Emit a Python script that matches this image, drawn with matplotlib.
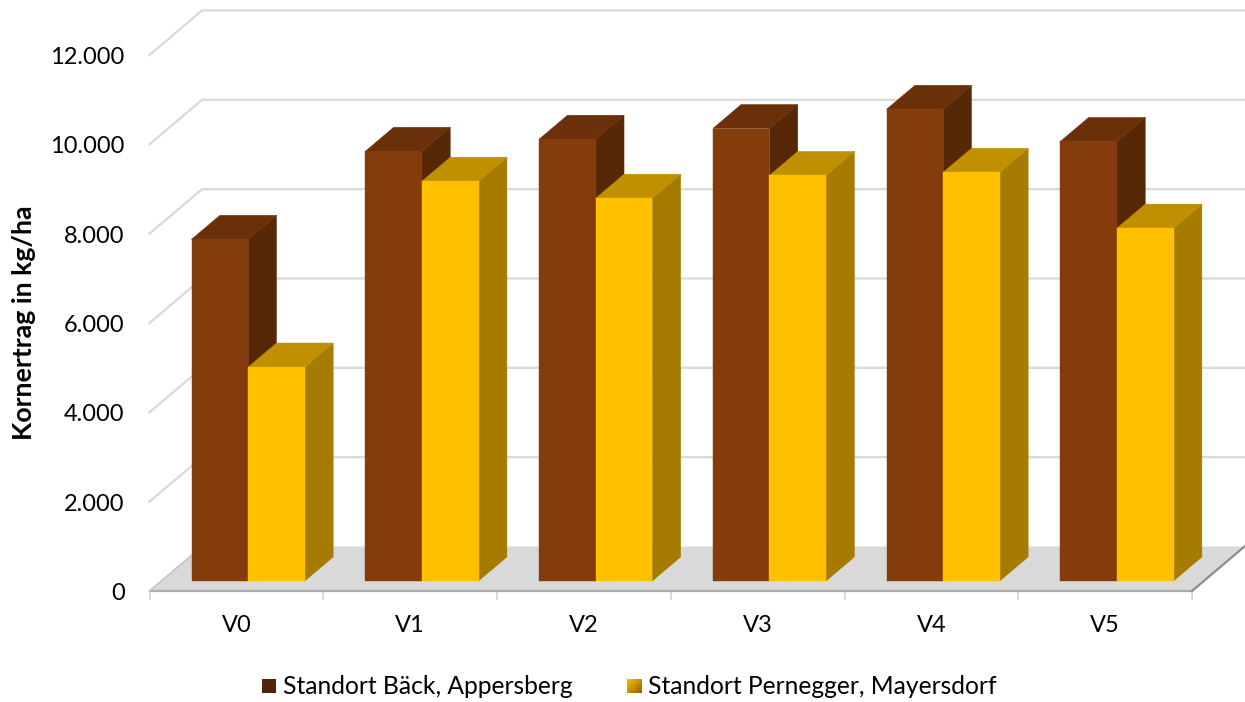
import numpy as np
import matplotlib
matplotlib.use("Agg")
import matplotlib.pyplot as plt
from matplotlib.patches import Polygon

categories = ["V0", "V1", "V2", "V3", "V4", "V5"]
series_names = ["Standort Bäck, Appersberg", "Standort Pernegger, Mayersdorf"]
baeck = [7650, 9620, 9890, 10130, 10560, 9840]
pernegger = [4790, 8950, 8570, 9080, 9150, 7900]
y_ticks = [0, 2000, 4000, 6000, 8000, 10000, 12000]
y_labels = ["0", "2.000", "4.000", "6.000", "8.000", "10.000", "12.000"]

W, H = 1245, 702
plt.rcParams["font.family"] = ["Lato", "DejaVu Sans"]
fig = plt.figure(figsize=(W / 100, H / 100), dpi=100, facecolor="white")
L, R, B, T = 149.5, 1192, 591, 55
ax = fig.add_axes([L / W, 1 - B / H, (R - L) / W, (B - T) / H])
ax.set_xlim(0, len(categories))
ax.set_ylim(0, 12000)
ax.axis("off")

# oblique projection: depth 0 = front plane, depth 1 = back wall
DX = 52.5 / ((R - L) / len(categories))
DY = 44.5 / ((B - T) / 12000)


def proj(x, y, d):
    return (x + DX * d, y + DY * d)


def poly(pts, **kw):
    p = Polygon([proj(*q) for q in pts], closed=True, clip_on=False, **kw)
    ax.add_patch(p)


n = len(categories)
# floor
poly([(0, 0, 0), (n, 0, 0), (n, 0, 1), (0, 0, 1)], fc="#D9D9D9", ec="none", zorder=1)
ax.plot(*zip(proj(0, 0, 0), proj(n, 0, 0)), color="#ABABAB", lw=1.6, clip_on=False, zorder=2)
ax.plot(*zip(proj(n, 0, 0), proj(n, 0, 1)), color="#8C8C8C", lw=1.6, clip_on=False, zorder=2)
ax.plot(*zip(proj(0, 0, 0), proj(0, 0, 1)), color="#C4C4C4", lw=1.2, clip_on=False, zorder=2)

# walls' gridlines
for v in y_ticks[1:]:
    xs, ys = zip(proj(0, v, 0), proj(0, v, 1), proj(n, v, 1))
    ax.plot(xs, ys, color="#D9D9D9", lw=1.6, clip_on=False, zorder=1, solid_joinstyle="miter")

# category ticks
for i in range(n + 1):
    ax.plot([i, i], [0, -190], color="#D9D9D9", lw=1.4, clip_on=False, zorder=1)

BW = 0.326
D0, D1 = 0.225, 0.765
front_c = ["#843C0C", "#FFC000"]
side_c = ["#572808", "#A67C00"]
top_c = ["#6A300A", "#C09000"]
for i in range(n):
    for s, vals in enumerate([baeck, pernegger]):
        x0 = i + 0.5 - BW + s * BW
        x1 = x0 + BW
        v = vals[i]
        z = 3 + i * 3 + s
        poly([(x1, 0, D0), (x1, 0, D1), (x1, v, D1), (x1, v, D0)], fc=side_c[s], ec=side_c[s], lw=0.3, zorder=z)
        poly([(x0, v, D0), (x1, v, D0), (x1, v, D1), (x0, v, D1)], fc=top_c[s], ec=top_c[s], lw=0.3, zorder=z + .1)
        poly([(x0, 0, D0), (x1, 0, D0), (x1, v, D0), (x0, v, D0)], fc=front_c[s], ec=front_c[s], lw=0.3, zorder=z + .2)

# labels
FS = 17
for v, lab in zip(y_ticks, y_labels):
    ax.annotate(lab, (0, v), xytext=(-25, -2.5), textcoords="offset pixels", ha="right", va="center",
                fontsize=FS, color="black", annotation_clip=False)
for i, c in enumerate(categories):
    ax.annotate(c, (i + 0.5, 0), xytext=(0, -35), textcoords="offset pixels", ha="center", va="center",
                fontsize=FS, color="black", annotation_clip=False)
fig.text(24 / W, 1 - 323 / H, "Kornertrag in kg/ha", rotation=90, ha="center", va="center",
         fontsize=19.3, fontweight="bold", color="black")

# legend
def swatch(x, y, s, c1, c2):
    g = np.linspace(0, 1, 16)
    a = ax.figure.add_axes([x / W, 1 - (y + s) / H, s / W, s / H])
    c1, c2 = np.array(matplotlib.colors.to_rgb(c1)), np.array(matplotlib.colors.to_rgb(c2))
    u, w = np.meshgrid(g, g)
    t = (u + w) / 2
    a.imshow(c1[None, None] * (1 - t[..., None]) + c2[None, None] * t[..., None], aspect="auto", interpolation="bilinear")
    a.axis("off")

swatch(262, 679, 14, "#572808", "#4C2307")
swatch(627, 679, 14, "#FFC000", "#8A6700")
fig.text(283 / W, 1 - 686.5 / H, series_names[0], ha="left", va="center", fontsize=17.75, color="black")
fig.text(648 / W, 1 - 686.5 / H, series_names[1], ha="left", va="center", fontsize=17.75, color="black")

fig.savefig("out.png", dpi=100, facecolor="white")
